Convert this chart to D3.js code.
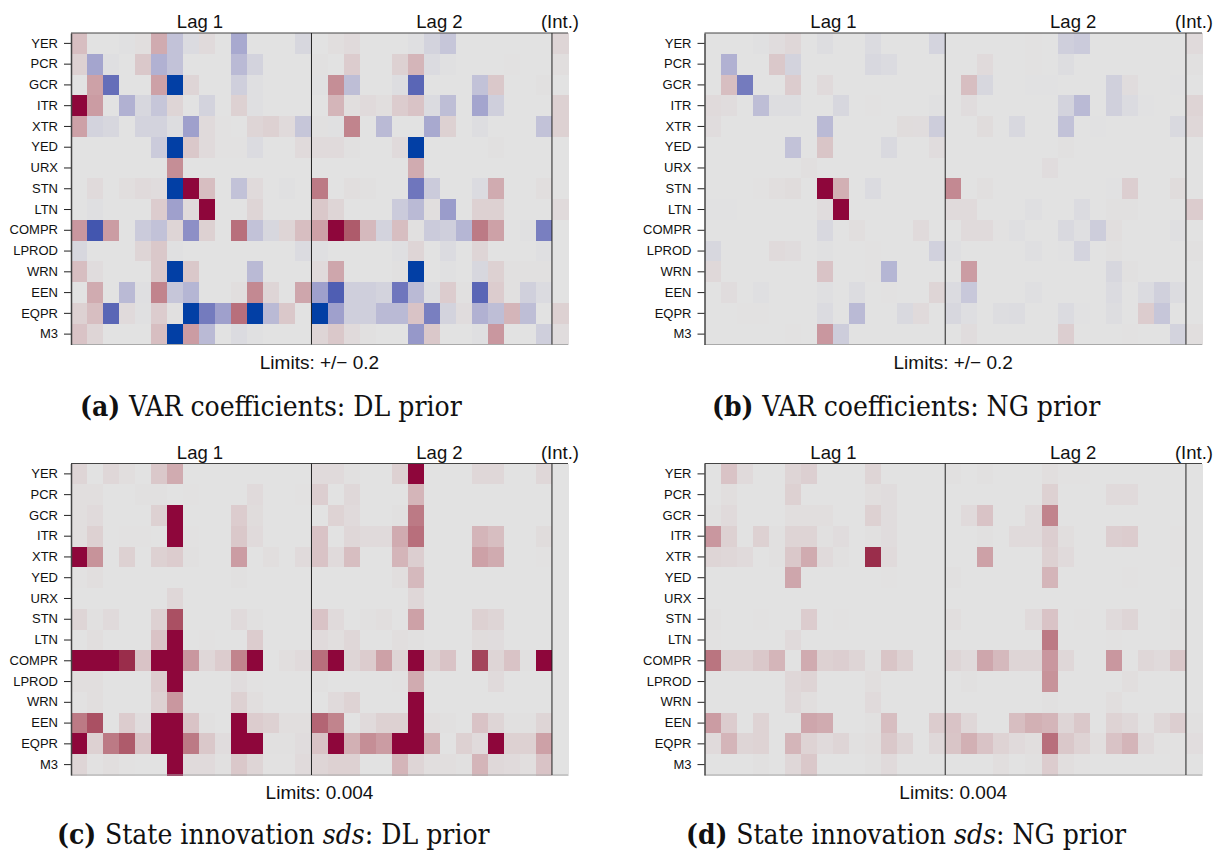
<!DOCTYPE html>
<html>
<head>
<meta charset="utf-8">
<script src="https://cdnjs.cloudflare.com/ajax/libs/d3/7.8.5/d3.min.js"></script>
<style>
html,body{margin:0;padding:0;background:#fff;overflow:hidden}
svg{display:block}
text{font-family:"Liberation Sans",Arial,sans-serif;fill:#111}
text.cap{font-family:"DejaVu Serif Condensed","DejaVu Serif",serif;fill:#111}
</style>
</head>
<body>
<div id="chart"></div>
<script>
// Row and column names
const rowNames = ["YER","PCR","GCR","ITR","XTR","YED","URX","STN","LTN","COMPR","LPROD","WRN","EEN","EQPR","M3"];
const groupLabels = ["Lag 1","Lag 2","(Int.)"];

// Panel (a): VAR coefficients, DL prior, in hundredths (limit +/- 20 = 0.2)
const coefDL = [
[4,0,0,-.3,.5,6,-4,-1,1,0,-7,0,0,0,-1.5, 0,.5,1,0,0,0,-.5,-2,-3.5,0,0,0,0,0,0, 1.5],
[2,-7.5,-.5,0,3,-6,-4,0,0,0,-5,-2,0,0,0, .3,0,2.5,0,0,2,5,-1,-.3,0,0,0,.2,0,0, .5],
[0,7,-14,0,0,7,-20,1.5,0,0,-2.5,-.5,0,0,0, -.3,9,-4.5,0,0,-.7,-15,0,0,0,-4,3,0,0,.3, 0],
[20,7.5,0,-6,-1.5,-3.5,1.5,0,-2,0,2,-.5,0,0,0, 0,5,.5,1,.5,2.5,3.5,-1,-4.5,0,-7.5,-2.5,0,0,0, 2],
[7,-2,-1.5,0,-2,-2,-.7,-8,1,.2,0,1.5,2,1,-3.5, .3,-.3,10,0,-5,0,0,-7,2,0,-.7,0,0,0,-4, 2],
[0,0,0,0,0,-3,-20,3,1,.2,.2,-1,0,0,1, 1,1,.3,0,0,1,-20,0,0,0,0,.3,0,0,0, 0],
[0,0,0,0,0,0,9,0,0,0,0,0,0,0,0, 0,0,0,0,0,0,6,0,0,0,0,0,0,0,0, 0],
[0,1,0,.5,1,.7,-20,20,4,0,-4,1,0,-.3,0, 11,0,.5,.3,0,0,-13,-3,0,0,-1,6,0,0,.5, 0],
[0,-.5,0,0,0,2.5,-8,1,20,0,0,1.5,0,0,0, 3,1.5,0,0,0,-3,-5,.5,-8.5,0,2,2,0,0,0, 1],
[8,-17,7.5,0,-3,-4,1.5,-10,2,0,12,-4,-1.5,1.5,4, 7,20,14,4.5,-2,4,.3,-3,-2.5,-5.5,11,7,0,-.3,-12, 0],
[-1.5,0,0,0,1.5,3,-.3,0,0,0,0,0,0,0,-1, -.5,0,0,0,0,-.5,1.5,0,-1,0,1.5,0,0,0,-.5, 0],
[4,.7,0,0,0,3,-20,3,0,0,0,-5,0,0,0, 1,6.5,0,0,0,.3,-20,0,-.3,0,-1.5,2,.3,.3,.3, 0],
[0,6,0,-5,-.5,10,-3.5,-5.5,0,0,.5,9.5,1.5,0,6.5, -8,-16,-2.5,-2.5,-2,-13,-5,-.7,2.5,.3,-15,2.5,.3,-2.3,-1, 0],
[2,4,-15,1,-.3,2.5,.3,-20,-12.5,-8,12,-20,-5,3,0, -20,-8,-2.5,-2.5,-5,-5,3.5,-12,-2,.7,-6,-4.5,5,-4.5,0, 2],
[3.5,1.5,0,0,0,4,-20,7.5,-5,0,-1,-.3,0,0,0, 1.5,3,1,.3,0,0,-9,3,0,0,-.5,8,0,0,-2.5, .7]
];

// Panel (b): VAR coefficients, NG prior
const coefNG = [
[0,0,0,-.3,.7,1.3,0,-.7,0,0,-1,0,0,0,-1.8, 0,0,0,0,0,.1,0,-2.5,-3,0,0,0,0,0,0, 1],
[0,-6,0,0,3,-2,0,0,0,0,-1.3,-1,0,0,0, 0,0,1,0,0,.1,0,-.7,0,0,0,0,0,0,0, .3],
[0,4,-12.5,0,0,2.5,0,1,0,0,0,0,0,0,0, 0,4,-1.5,0,0,-.2,-.2,0,0,0,-2.3,.7,0,0,-.2, 0],
[1,.7,0,-4.5,-.7,-.7,0,0,-1.5,0,.2,0,0,0,-.3, 0,.7,0,0,0,0,0,-2,-5,0,-2.3,-1,-.1,0,0, 1.7],
[.7,0,0,0,0,0,0,-5,0,0,0,0,.8,.7,-2.7, 0,0,.8,0,-1.4,0,0,-4,0,-.1,0,0,0,0,-1.2, 1.3],
[0,0,0,0,0,-4,0,3.3,0,0,0,-1.2,0,0,.7, 0,0,0,0,0,0,0,.3,0,0,0,0,0,0,0, 0],
[0,0,0,0,0,0,.4,0,0,0,0,0,0,0,0, 0,0,0,0,0,0,.7,0,0,0,0,0,0,0,0, 0],
[0,0,0,.2,.5,.8,0,20,5.5,0,-1,0,0,0,0, 9.5,0,.4,0,0,0,0,0,0,0,-.2,2.3,0,0,.8, 0],
[-.1,-.2,0,0,0,0,0,.7,20,0,0,0,0,0,0, 1,1,0,0,0,-.5,0,0,-1,0,.3,.3,0,0,0, 2.5],
[0,0,0,0,0,0,0,-1.3,0,.5,0,0,0,1,0, 0,1,1,.2,-.5,0,0,-1.2,-.5,-2.7,.5,0,0,0,-.4, 0],
[-1.5,0,0,0,1,.7,0,-.3,0,0,.1,0,0,0,-2.2, -.5,0,0,0,0,-.4,0,-.2,-1.8,0,.3,0,0,0,0, .3],
[1.2,0,0,0,0,0,0,3.5,0,0,.2,-5.5,0,0,0, 0,7.5,0,0,0,0,0,0,0,0,-1.5,.3,0,0,0, 0],
[0,.7,0,-.4,0,0,0,-.5,0,-.8,0,.2,0,0,1.5, -1,-3.3,0,0,0,-.5,0,0,0,0,-1,0,-1,-2.3,-.8, 0],
[0,0,.1,.2,0,0,0,-1,0,-5,0,0,-1.2,1,0, -1.5,-.6,0,-.7,-.8,0,0,-1,-.2,0,-.7,0,2.5,-3.5,0, 0],
[0,0,0,0,0,.2,0,8,-2.7,0,0,0,0,0,0, 0,.7,0,0,0,0,0,2.3,0,0,0,.2,0,0,-2, .5]
];

// Panel (c): state innovation sds, DL prior, in units of 0.0002 (limit 20 = 0.004)
const sdsDL = [
[1.5,0,1.3,.5,0,3,6,0,0,0,0,0,0,0,0, 1,1,.3,0,0,2,20,0,0,0,1.3,1.3,0,0,1.3, 0],
[.5,.5,0,0,.3,.3,0,.1,0,0,0,1,0,0,.2, 2.3,0,1.2,0,0,0,5,0,0,0,0,0,0,0,0, 0],
[.5,1,0,0,0,2,20,0,0,0,2.5,.8,0,0,0, 0,1.8,1,0,0,.3,11,0,0,0,0,0,0,0,0, 0],
[.5,2,0,.2,.2,0,20,.2,0,0,3,1,0,0,0, 3.5,0,1.3,1,1,6,12,0,0,0,5,4,0,0,.8, 0],
[20,8.5,0,2,0,2,2.5,.3,0,0,7.5,0,.5,0,1, 3.5,1,4,0,0,5,2.3,0,0,0,7,6,0,0,.2, 0],
[.2,.5,0,0,0,0,0,0,0,0,.3,0,0,0,0, 0,0,0,0,0,.5,4.5,0,0,0,0,0,0,0,0, 0],
[0,0,0,0,0,0,1.3,0,0,0,0,0,0,0,0, 0,0,0,0,0,0,1.3,0,0,0,0,0,0,0,0, 0],
[1.5,.3,1,0,0,2,15,0,0,0,1,.3,0,0,0, 3.5,1,0,.3,.5,0,7,0,0,0,2,1.5,0,0,0, 0],
[0,.5,0,0,0,3.5,20,0,.1,0,0,2.5,0,0,0, 1,.5,1.3,0,0,.5,.3,0,0,0,.8,.7,0,0,0, 0],
[20,20,20,18,3.5,20,20,8,1.3,2.5,10,20,0,.5,1, 12,20,1.5,2.5,7,1.5,20,2,3.5,0,16,1.5,3.5,.3,20, 0],
[.5,.5,0,0,0,2.5,20,0,0,0,.7,.2,0,0,0, .3,0,0,0,0,.2,6,0,0,0,0,1,0,0,0, 0],
[.2,.5,0,0,0,2,8,0,0,0,2,.5,0,0,0, 0,1,1.8,0,0,0,20,0,0,0,0,0,0,0,0, 0],
[11,15,0,2.5,.7,20,20,3.5,.3,0,20,2.5,2,.5,.5, 13,10,0,1,2,2,20,.5,.3,0,3.5,1.5,.3,.3,1.5, 0],
[20,2,11,14,3.5,20,20,11,3,.7,20,20,.3,.3,.7, 3.5,20,5.5,9,7.5,20,20,5.5,0,2,1,20,2,2,7, 0],
[1.5,.2,.5,.2,0,0,20,1,1,.3,3,1.5,.2,.2,1, 1.5,2,2,0,0,5,1.5,.5,.5,.3,5,1.2,1,.5,3.5, 0]
];

// Panel (d): state innovation sds, NG prior
const sdsNG = [
[0,3.5,1,0,0,1.5,2.2,0,0,0,1.5,0,0,0,0, .3,0,.3,0,0,0,.5,.2,.2,0,0,0,0,0,0, 0],
[0,.5,0,0,0,2,0,0,0,0,.5,.7,0,0,0, 0,0,0,0,0,0,2,0,0,0,1,1,0,0,0, 0],
[.3,1,0,0,0,.5,.5,.5,0,0,2,.7,0,0,0, 0,1,3.5,0,0,1,10,0,0,0,0,0,0,0,0, 0],
[8,2,0,2,.3,1.7,1.7,.3,.7,0,.3,.7,0,0,0, 0,0,.3,0,1,1,2.3,.5,0,0,2.3,2.5,0,0,.1, 0],
[1.5,1.3,1,0,.3,3,6,1,.3,0,18,1,0,0,0, 0,0,7,0,0,0,2,1,0,0,0,0,0,0,.1, 0],
[0,0,0,0,0,6.5,0,0,0,0,0,.1,0,0,0, .3,0,0,0,0,0,5,0,0,0,0,.1,0,0,0, 0],
[0,0,0,0,0,0,0,0,0,0,0,0,0,0,0, 0,0,0,0,0,0,0,0,0,0,0,0,0,0,0, 0],
[.3,0,0,.1,0,0,2.5,0,.1,0,0,0,0,0,0, .5,0,0,0,0,1,3.5,0,.2,0,1,1.6,0,0,.3, 0],
[.1,0,0,0,0,1,0,0,0,0,0,0,0,0,0, 0,0,0,0,0,0,11,0,0,0,.1,0,0,0,.2, 0],
[11.5,2,2,3,5,0,6,2,2.3,1.5,.3,3.3,2,0,0, 1.5,1,6.5,4.5,1.5,1.5,8,1.3,0,0,8,0,1.3,1,3, 0],
[0,0,0,0,0,1.3,1.7,0,0,0,.5,0,0,0,0, 0,.3,0,0,0,0,8.5,0,0,0,0,.5,0,0,0, 0],
[0,0,0,0,0,1.2,.5,0,0,0,1,0,0,0,0, 0,0,0,0,0,0,.3,0,0,0,.5,0,0,0,0, 0],
[7.5,2.5,0,1.8,0,0,6.5,6,0,0,.3,4,0,0,2.5, 3.5,1.3,0,0,4,5.5,5,1.5,3,0,1.8,1.2,.2,1.3,2.3, .3],
[1,5,1.5,1.8,0,5,1.8,1,1.5,.3,.5,3,1.5,0,1.2, 3.3,5.5,3.5,1.8,1,.5,12,3,1.8,.5,3.5,5,1,.2,.2, .6],
[0,0,0,.3,0,1.3,3,0,0,0,.3,1,0,0,0, 0,0,0,.5,0,.3,2.5,.5,.2,0,0,0,0,0,.2, 0]
];

const W = 1215, H = 851;
const svg = d3.select("#chart").append("svg").attr("width", W).attr("height", H);

const color = d3.scalePow().exponent(1.07)
  .domain([-20, 0, 20])
  .range(["#023FA5", "#E2E2E2", "#8E063B"])
  .interpolate(d3.interpolateLab)
  .clamp(true);

const panels = [
  {data: coefDL, x0: 71,    x1: 568,  y0: 33,    y1: 344.5, limit: "Limits: +/\u2212 0.2", tag: "(a)", pre: "VAR coefficients: DL prior", it: "", post: "", capX: 80,  capY: 416},
  {data: coefNG, x0: 704.5, x1: 1202, y0: 33,    y1: 344.5, limit: "Limits: +/\u2212 0.2", tag: "(b)", pre: "VAR coefficients: NG prior", it: "", post: "", capX: 712, capY: 416},
  {data: sdsDL,  x0: 71,    x1: 568,  y0: 463.5, y1: 775,   limit: "Limits: 0.004",        tag: "(c)", pre: "State innovation ", it: "sds", post: ": DL prior", capX: 57, capY: 843.5},
  {data: sdsNG,  x0: 704.5, x1: 1202, y0: 463.5, y1: 775,   limit: "Limits: 0.004",        tag: "(d)", pre: "State innovation ", it: "sds", post: ": NG prior", capX: 686, capY: 843.5}
];

panels.forEach(p => {
  const g = svg.append("g");
  const x = d3.scaleBand().domain(d3.range(31)).range([p.x0, p.x1]);
  const y = d3.scaleBand().domain(rowNames).range([p.y0, p.y1]);

  // cells
  g.append("g").attr("shape-rendering", "crispEdges")
    .selectAll("g").data(p.data).join("g")
    .each(function (row, i) {
      d3.select(this).selectAll("rect").data(row).join("rect")
        .attr("x", (d, j) => x(j))
        .attr("y", y(rowNames[i]))
        .attr("width", x.bandwidth() + 0.5)
        .attr("height", y.bandwidth() + 0.5)
        .attr("fill", d => color(d));
    });

  // frame: top and bottom rules
  g.append("line").attr("x1", p.x0).attr("x2", p.x1).attr("y1", p.y0).attr("y2", p.y0)
    .attr("stroke", "#444").attr("stroke-width", 1);
  g.append("line").attr("x1", p.x0).attr("x2", p.x1).attr("y1", p.y1).attr("y2", p.y1)
    .attr("stroke", "#aaa").attr("stroke-width", 1);

  // separators between lag blocks
  [15, 30].forEach(k => {
    g.append("line").attr("x1", x(k)).attr("x2", x(k)).attr("y1", p.y0).attr("y2", p.y1)
      .attr("stroke", "#222").attr("stroke-width", 1);
  });

  // left axis
  const ax = g.append("g").attr("transform", `translate(${p.x0},0)`)
    .call(d3.axisLeft(y).tickSize(7).tickSizeOuter(0).tickPadding(6));
  ax.select(".domain").attr("stroke", "#444").attr("stroke-width", 1.5);
  ax.selectAll(".tick line").attr("stroke", "#222").attr("stroke-width", 1);
  ax.selectAll(".tick text").attr("font-size", 13)
    .attr("font-family", '"Liberation Sans",Arial,sans-serif').attr("fill", "#111");

  // block labels
  const labelX = [x(0) + 129, x(15) + 128, x(30) + 8];
  groupLabels.forEach((t, i) => {
    g.append("text").attr("x", labelX[i]).attr("y", p.y0 - 5)
      .attr("text-anchor", "middle").attr("font-size", 18.5).text(t);
  });

  // limits note
  g.append("text").attr("x", x(15) + 8).attr("y", p.y1 + 24)
    .attr("text-anchor", "middle").attr("font-size", 19).text(p.limit);

  // caption
  const c = g.append("text").attr("class", "cap").attr("x", p.capX).attr("y", p.capY).attr("font-size", 28);
  c.append("tspan").attr("font-weight", "bold").text(p.tag + " ");
  c.append("tspan").text(p.pre);
  if (p.it) c.append("tspan").attr("font-style", "italic").text(p.it);
  if (p.post) c.append("tspan").text(p.post);
});
</script>
</body>
</html>
